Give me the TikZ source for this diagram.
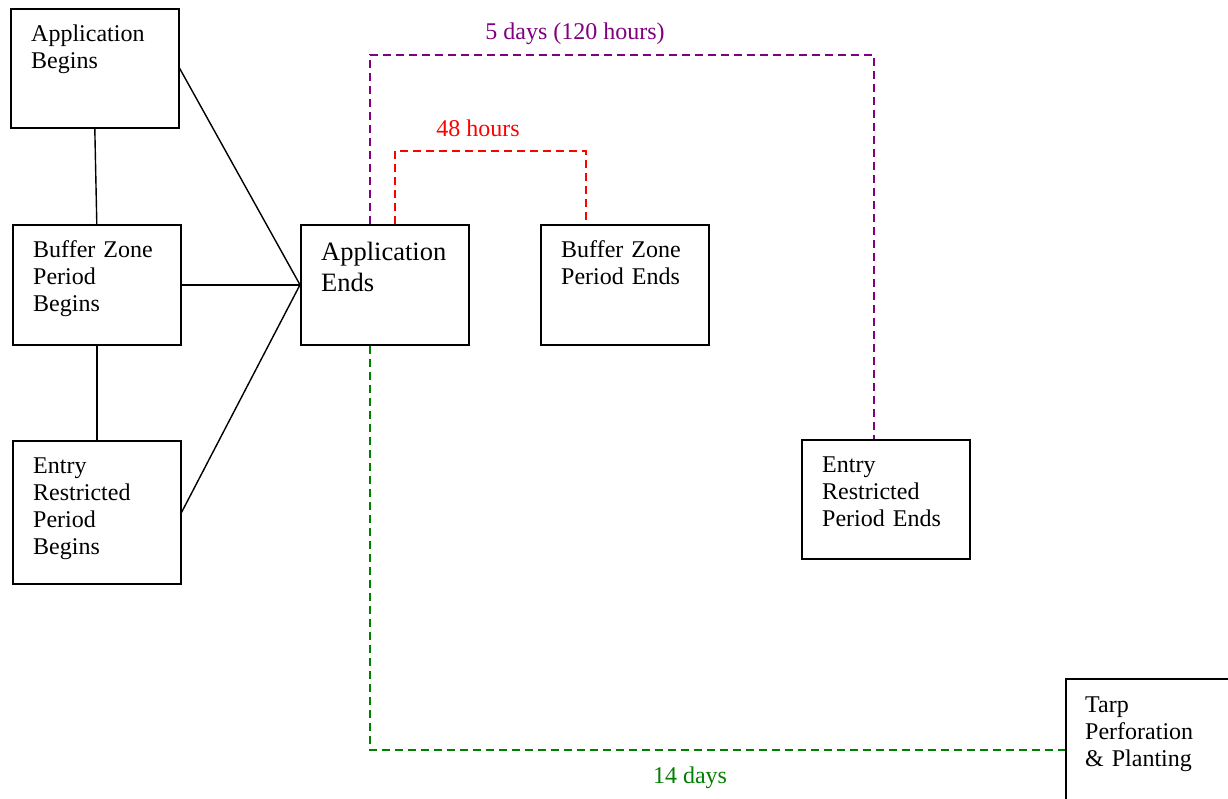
\documentclass[tikz,border=0pt]{standalone}
\usepackage{fontspec}
\setmainfont{Liberation Serif}
\usetikzlibrary{calc}
\definecolor{spanpurple}{RGB}{128,0,128}
\definecolor{spanred}{RGB}{255,0,0}
\definecolor{spangreen}{RGB}{0,128,0}
\begin{document}
\begin{tikzpicture}[x=1pt,y=-1pt,
  box/.style={draw, line width=1.6pt, inner sep=0pt, anchor=north west, minimum width=168pt},
  boxtext/.style={font=\fontsize{24}{27.3}\selectfont, anchor=base west, text width=160pt, align=left, inner sep=0pt},
  bigtext/.style={boxtext, font=\fontsize{26.5}{31}\selectfont},
  link/.style={line width=1.4pt},
  span/.style={line width=1.6pt, dash pattern=on 8pt off 5pt},
  spanlabel/.style={font=\fontsize{24}{27}\selectfont, anchor=base, inner sep=0pt}]
\clip (0,0) rectangle (1228,798);
\fill[white] (0,0) rectangle (1228,798);

% event boxes
\node[box, minimum height=119pt] (ab) at (10,8) {};
\node[box, minimum height=120pt] (bb) at (12,224) {};
\node[box, minimum height=143pt] (eb) at (12,440) {};
\node[box, minimum height=120pt] (ae) at (300,224) {};
\node[box, minimum height=120pt] (be) at (540,224) {};
\node[box, minimum height=119pt] (ee) at (801,439) {};
\node[box, minimum width=220pt, minimum height=180pt] (tp) at (1065,678) {};

% box captions
\node[boxtext] (abt) at ($(ab.north west)+(21,33)$) {Application\\Begins};
\node[boxtext] (bbt) at ($(bb.north west)+(21,33)$) {Buffer Zone\\Period\\Begins};
\node[boxtext] (ebt) at ($(eb.north west)+(21,33)$) {Entry\\Restricted\\Period\\Begins};
\node[bigtext] (aet) at ($(ae.north west)+(21,36)$) {Application\\Ends};
\node[boxtext] (bet) at ($(be.north west)+(21,33)$) {Buffer Zone\\Period Ends};
\node[boxtext] (eet) at ($(ee.north west)+(21,33)$) {Entry\\Restricted\\Period Ends};
\node[boxtext] (tpt) at ($(tp.north west)+(20,34)$) {Tarp\\Perforation\\\& Planting};

% solid connectors
\draw[link] (ab.south) -- (bb.north);
\draw[link] (bb.south) -- (eb.north);
\draw[link] (ab.east) -- (ae.west);
\draw[link] (bb.east) -- (ae.west);
\draw[link] (eb.east) -- (ae.west);

% time spans
\coordinate (p1) at ($(ae.north west)+(70,0)$);
\coordinate (p2) at ($(ee.north west)+(73,0)$);
\draw[span, spanpurple] (p1) -- (p1 |- 0,55) -- (p2 |- 0,55) -- (p2);
\node[spanlabel, spanpurple] (pl) at (575,39) {5 days (120 hours)};

\coordinate (r1) at ($(ae.north west)+(95,0)$);
\coordinate (r2) at ($(be.north west)+(46,0)$);
\draw[span, spanred] (r1) -- (r1 |- 0,151) -- (r2 |- 0,151) -- (r2);
\node[spanlabel, spanred] (rl) at (478,136) {48 hours};

\coordinate (g1) at ($(ae.south west)+(70,0)$);
\coordinate (g2) at (tp.north west |- 0,750);
\draw[span, spangreen] (g1) -- (g1 |- g2) -- (g2);
\node[spanlabel, spangreen] (gl) at (690,783) {14 days};
\end{tikzpicture}
\end{document}
